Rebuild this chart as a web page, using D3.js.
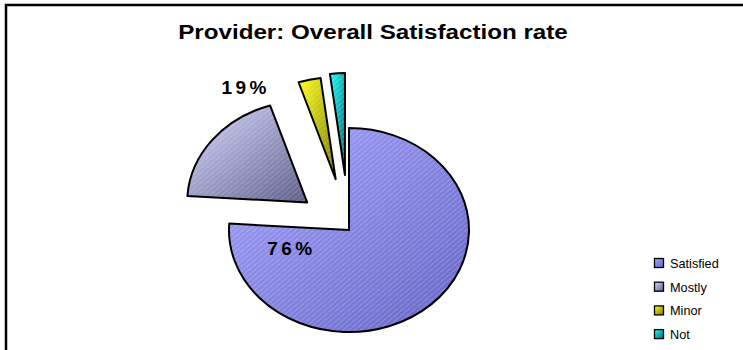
<!DOCTYPE html>
<html>
<head>
<meta charset="utf-8">
<script src="https://cdn.jsdelivr.net/npm/d3@7"></script>
<style>
  html, body { margin: 0; padding: 0; background: #fff; }
  svg { display: block; }
</style>
</head>
<body>
<svg id="chart" width="743" height="350"></svg>
<script>
// Survey answers for provider satisfaction (percent of responses)
const categories = ["Satisfied", "Mostly", "Minor", "Not"];
const shares = [76, 19, 3, 2];
const valueLabels = ["76%", "19%", null, null];

// Fill colours: light corner -> dark corner of each slice's gradient
const lightColors = ["#a6a6ff", "#d8d8ff", "#ffff20", "#20ffff"];
const darkColors  = ["#6464c4", "#5c5c88", "#7a7a00", "#006a6a"];

const svg = d3.select("#chart");
const W = 743, H = 350;
const font = "Liberation Sans, Arial, sans-serif";

// Outer frame (runs off the right and bottom edges)
svg.append("path")
  .attr("d", `M6,${H + 5} V5 H${W + 5}`)
  .attr("fill", "none")
  .attr("stroke", "#000")
  .attr("stroke-width", 2.5);

// Title, slightly widened
svg.append("text")
  .attr("transform", "translate(373,39) scale(1.18,1)")
  .attr("text-anchor", "middle")
  .attr("font-family", font)
  .attr("font-weight", "bold")
  .attr("font-size", 20.5)
  .text("Provider: Overall Satisfaction rate");

const defs = svg.append("defs");

// Gradients per category
categories.forEach((c, i) => {
  const g = defs.append("linearGradient")
    .attr("id", "grad" + i)
    .attr("x1", 0).attr("y1", 0).attr("x2", 1).attr("y2", 1);
  g.append("stop").attr("offset", "0%").attr("stop-color", lightColors[i]);
  g.append("stop").attr("offset", "100%").attr("stop-color", darkColors[i]);
});

// Fine diagonal hatch drawn over the fills
const hatch = defs.append("pattern")
  .attr("id", "hatch")
  .attr("patternUnits", "userSpaceOnUse")
  .attr("width", 5).attr("height", 5);
hatch.append("path")
  .attr("d", "M-1,1 l2,-2 M0,5 l5,-5 M4,6 l2,-2")
  .attr("stroke", "#ffffff")
  .attr("stroke-opacity", 0.45)
  .attr("stroke-width", 0.8)
  .attr("stroke-dasharray", "1,0.6");

// Pie geometry: drawn as a circle then stretched horizontally
const cx = 349, cy = 230, ry = 102, rx = 120;
const sx = rx / ry;
const explode = [0, 45, 52, 55];

const pie = d3.pie().sort(null).value(d => d)
  .startAngle(0).endAngle(2 * Math.PI);
const arcs = pie(shares);
const arc = d3.arc().innerRadius(0).outerRadius(ry);

const pieG = svg.append("g")
  .attr("transform", `translate(${cx},${cy}) scale(${sx},1)`);

const slice = pieG.selectAll("g.slice")
  .data(arcs)
  .join("g")
  .attr("class", "slice")
  .attr("transform", (d, i) => {
    const mid = (d.startAngle + d.endAngle) / 2;
    const dx = explode[i] * Math.sin(mid);
    const dy = -explode[i] * Math.cos(mid);
    return `translate(${dx},${dy})`;
  });

slice.append("path")
  .attr("d", arc)
  .attr("fill", (d, i) => `url(#grad${i})`);

slice.append("path")
  .attr("d", arc)
  .attr("fill", "url(#hatch)")
  .attr("stroke", "#000")
  .attr("stroke-width", 2)
  .attr("stroke-linejoin", "round")
  .attr("vector-effect", "non-scaling-stroke");

// Percentage labels, placed by polar position around the pie centre
const labelPolar = [[250, 52], [328.5, 168], null, null];
valueLabels.forEach((t, i) => {
  if (!t) return;
  const a = labelPolar[i][0] * Math.PI / 180;
  const r = labelPolar[i][1];
  svg.append("text")
    .attr("x", cx + sx * r * Math.sin(a))
    .attr("y", cy - r * Math.cos(a) + 7)
    .attr("text-anchor", "middle")
    .attr("font-family", font)
    .attr("font-weight", "bold")
    .attr("font-size", 19)
    .attr("letter-spacing", 3.5)
    .text(t);
});

// Legend
const legend = svg.append("g").attr("transform", "translate(654,258)");
const row = legend.selectAll("g")
  .data(categories)
  .join("g")
  .attr("transform", (d, i) => `translate(0,${i * 23.7})`);
row.append("rect")
  .attr("x", 0.5).attr("y", 0.5)
  .attr("width", 9).attr("height", 9)
  .attr("fill", (d, i) => `url(#grad${i})`)
  .attr("stroke", "#000")
  .attr("stroke-width", 1.3);
row.append("text")
  .attr("transform", "translate(16,9.8) scale(1.06,1)")
  .attr("font-family", font)
  .attr("font-size", 12)
  .text(d => d);
</script>
</body>
</html>
